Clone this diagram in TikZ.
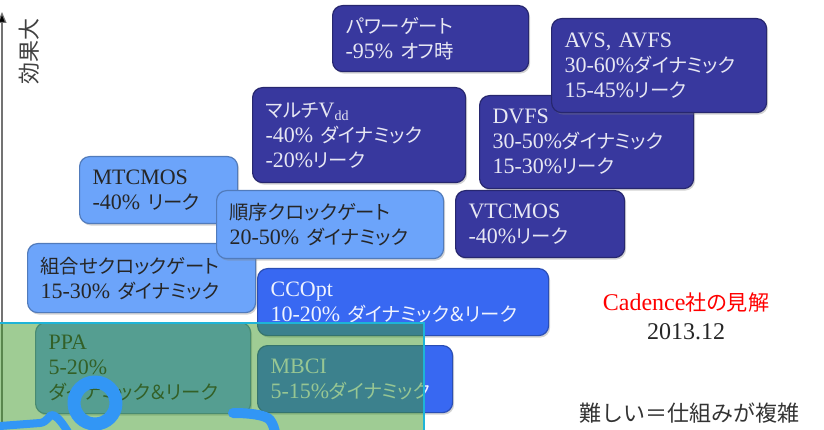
\documentclass[tikz,border=0pt]{standalone}
\usepackage{fontspec}
\setmainfont{Liberation Serif}
\newfontfamily\jp{Noto Sans CJK JP}[RawFeature=+palt,Scale=0.88]
\newfontfamily\jpf{Noto Sans CJK JP}
\usetikzlibrary{shadows,arrows.meta}
\newcommand{\J}[1]{{\jp #1}}
\newcommand{\subdd}{\raisebox{-0.35ex}{\fontsize{14}{14}\selectfont dd}}
\definecolor{dkb}{RGB}{56,56,158}
\definecolor{ltb}{RGB}{108,164,250}
\definecolor{brb}{RGB}{56,104,242}
\definecolor{ovg}{RGB}{64,154,41}
\definecolor{ovc}{RGB}{30,180,215}
\definecolor{pen}{RGB}{50,150,245}
\tikzset{
  box/.style={rounded corners=10pt, align=left, inner xsep=13pt, inner ysep=0pt,
    anchor=north west, font=\fontsize{22}{25}\selectfont, line width=1.2pt,
    drop shadow={shadow xshift=1.5pt,shadow yshift=-2pt,opacity=0.35}},
  dark/.style={box, fill=dkb, draw=dkb!70!black, text=white!88!dkb},
  light/.style={box, fill=ltb, draw=ltb!75!black, text=black!85},
  bright/.style={box, fill=brb, draw=brb!75!black, text=white!92!brb},
  penline/.style={draw=pen, line cap=round, line join=round}
}
\begin{document}
\begin{tikzpicture}[x=1pt,y=-1pt]
\useasboundingbox (0,0) rectangle (824,430);
% axis
\draw[draw=black!55, line width=1.2pt, -{Triangle[width=9pt,length=11pt,fill=black]}] (2,432) -- (2,12);
\node[rotate=90, font=\jpf\fontsize{22}{22}\selectfont, text=black!75] (lbl) at (29,52) {効果大};
% boxes
\node[dark, text width=170pt, minimum height=66pt] (pw) at (332,5)
  {\mbox{\J{パワーゲート}}\\\mbox{-95\% \J{オフ時}}};
\node[dark, text width=188pt, minimum height=93pt] (dvfs) at (479,95)
  {DVFS\\\mbox{30-50\%\J{ダイナミック}}\\\mbox{15-30\%\J{リーク}}};
\node[dark, text width=189pt, minimum height=94pt] (avs) at (551,18)
  {\mbox{AVS, AVFS}\\\mbox{30-60\%\J{ダイナミック}}\\\mbox{15-45\%\J{リーク}}};
\node[dark, text width=187pt, minimum height=95pt] (mvdd) at (252,87)
  {\mbox{\J{マルチ}V\subdd}\\\mbox{-40\% \J{ダイナミック}}\\\mbox{-20\%\J{リーク}}};
\node[light, text width=132pt, minimum height=67pt] (mtc) at (79,156)
  {MTCMOS\\\mbox{-40\% \J{リーク}}};
\node[light, text width=202pt, minimum height=69pt] (comb) at (27,243)
  {\mbox{\J{組合せクロックゲート}}\\\mbox{15-30\% \J{ダイナミック}}};
\node[light, text width=201pt, minimum height=68pt] (seq) at (216,190)
  {\mbox{\J{順序クロックゲート}}\\\mbox{20-50\% \J{ダイナミック}}};
\node[dark, text width=143pt, minimum height=67pt] (vtc) at (455,190)
  {VTCMOS\\\mbox{-40\%\J{リーク}}};
\node[bright, text width=265pt, minimum height=67pt] (cco) at (257,268)
  {CCOpt\\\mbox{10-20\% \J{ダイナミック＆リーク}}};
\node[light, text width=189pt, minimum height=91pt] (ppa) at (35,322)
  {PPA\\5-20\%\\\mbox{\J{ダイナミック＆リーク}}};
\node[bright, text width=169pt, minimum height=67pt] (mbci) at (257,345)
  {MBCI\\\mbox{5-15\%\J{ダイナミック}}};
% notes
\node[text=red, font=\fontsize{24}{24}\selectfont] (cad) at (686,302) {Cadence\J{社の見解}};
\node[text=black!85, font=\fontsize{24}{24}\selectfont] (date) at (686,332) {2013.12};
\node[text=black!80, font=\jpf\fontsize{22}{22}\selectfont] (hard) at (689,413) {難しい＝仕組みが複雑};
% overlay
\path[fill=ovg, fill opacity=0.5] (0,323) rectangle (424,434);
\draw[draw=ovc, line width=1.5pt] (0,323) -- (424,323) -- (424,434);
% pen strokes
\draw[penline, line width=13pt] (95,403) circle[radius=21];
\draw[penline, line width=8pt] (0,426) -- (40,423) .. controls (48,422) and (49,414) .. (53,415)
  .. controls (58,417) and (63,424) .. (68,432);
\draw[penline, line width=10pt] (233,413) .. controls (250,413) and (266,415) .. (270,420)
  .. controls (273,424) and (274,428) .. (275,432);
\end{tikzpicture}
\end{document}
